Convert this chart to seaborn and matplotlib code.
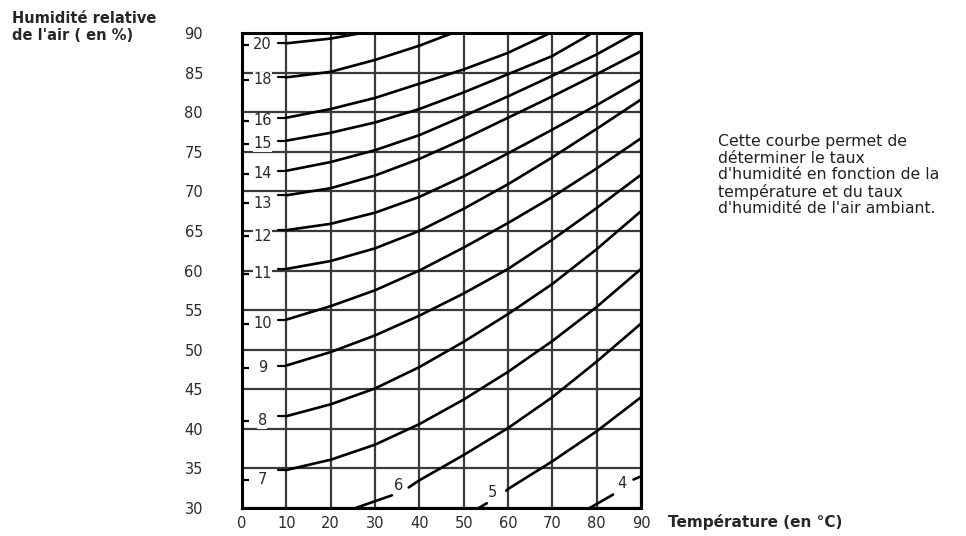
import numpy as np
import pandas as pd
import seaborn as sns
import matplotlib.pyplot as plt

# humidity curves, one per moisture rate (temperature in °C, relative humidity in %)
temp_20 = [10, 20, 27]
hum_20 = [88.7, 89.3, 90.0]
temp_18 = [10, 20, 30, 40, 47.5]
hum_18 = [84.4, 85.1, 86.6, 88.4, 90.0]
temp_16 = [10, 20, 30, 40, 50, 60, 69.5]
hum_16 = [79.3, 80.4, 81.8, 83.6, 85.4, 87.5, 90.0]
temp_15 = [10, 20, 30, 40, 50, 60, 70, 79]
hum_15 = [76.4, 77.4, 78.7, 80.4, 82.5, 84.8, 87.1, 90.0]
temp_14 = [10, 20, 30, 40, 50, 60, 70, 80, 88.7]
hum_14 = [72.6, 73.7, 75.2, 77.1, 79.5, 82.0, 84.6, 87.3, 90.0]
temp_13 = [10, 20, 30, 40, 50, 60, 70, 80, 90]
hum_13 = [69.5, 70.4, 72.0, 74.1, 76.6, 79.3, 82.0, 84.8, 87.7]
temp_12 = [10, 20, 30, 40, 50, 60, 70, 80, 90]
hum_12 = [65.1, 65.9, 67.3, 69.3, 71.9, 74.8, 77.8, 80.9, 84.1]
temp_11 = [10, 20, 30, 40, 50, 60, 70, 80, 90]
hum_11 = [60.2, 61.2, 62.8, 65.0, 67.8, 70.9, 74.3, 77.9, 81.6]
temp_10 = [10, 20, 30, 40, 50, 60, 70, 80, 90]
hum_10 = [53.8, 55.5, 57.5, 60.0, 62.9, 66.0, 69.3, 72.9, 76.7]
temp_9 = [10, 20, 30, 40, 50, 60, 70, 80, 90]
hum_9 = [48.0, 49.7, 51.8, 54.3, 57.1, 60.2, 63.9, 67.9, 72.1]
temp_8 = [10, 20, 30, 40, 50, 60, 70, 80, 90]
hum_8 = [41.6, 43.1, 45.1, 47.8, 51.0, 54.5, 58.3, 62.7, 67.5]
temp_7 = [10, 20, 30, 40, 50, 60, 70, 80, 90]
hum_7 = [34.8, 36.1, 38.0, 40.6, 43.7, 47.2, 51.1, 55.4, 60.2]
# curves 6, 5 and 4 are cut by their label
temp_6a = [25.6, 33.8]
hum_6a = [30.0, 31.6]
temp_6b = [37.6, 40, 50, 60, 70, 80, 90]
hum_6b = [32.6, 33.5, 36.7, 40.1, 44.0, 48.5, 53.3]
temp_5a = [53.4, 55.2]
hum_5a = [30.0, 30.6]
temp_5b = [59.6, 60, 70, 80, 90]
hum_5b = [32.2, 32.4, 35.9, 39.7, 44.0]
temp_4a = [78.4, 83.7]
hum_4a = [30.0, 31.7]
temp_4b = [88.3, 90]
hum_4b = [33.6, 34.0]

left_labels = ['20', '18', '16', '15', '14', '13', '12', '11', '10', '9', '8', '7']
left_label_hum = [88.5, 84.1, 78.9, 76.0, 72.2, 68.5, 64.3, 59.6, 53.3, 47.7, 41.0, 33.6]
inner_labels = ['6', '5', '4']
inner_label_temp = [35.3, 56.5, 85.6]
inner_label_hum = [32.8, 31.9, 33.1]

y_ticks = [30, 35, 40, 45, 50, 55, 60, 65, 70, 75, 80, 85, 90]
x_ticks = [0, 10, 20, 30, 40, 50, 60, 70, 80, 90]

segments = [
    ('20', temp_20, hum_20), ('18', temp_18, hum_18), ('16', temp_16, hum_16),
    ('15', temp_15, hum_15), ('14', temp_14, hum_14), ('13', temp_13, hum_13),
    ('12', temp_12, hum_12), ('11', temp_11, hum_11), ('10', temp_10, hum_10),
    ('9', temp_9, hum_9), ('8', temp_8, hum_8), ('7', temp_7, hum_7),
    ('6a', temp_6a, hum_6a), ('6b', temp_6b, hum_6b),
    ('5a', temp_5a, hum_5a), ('5b', temp_5b, hum_5b),
    ('4a', temp_4a, hum_4a), ('4b', temp_4b, hum_4b),
]
rows = []
for name, ts, hs in segments:
    for t, h in zip(ts, hs):
        rows.append((name, t, h))
df = pd.DataFrame(rows, columns=['segment', 'temperature', 'humidite'])

sns.set_style('white')
plt.rcParams['font.family'] = ['DejaVu Sans']

fig = plt.figure(figsize=(9.66, 5.36), dpi=100)
ax = fig.add_axes([0.2505, 0.0522, 0.4131, 0.8862])

ax.set_xlim(0, 90)
ax.set_ylim(30, 90)
ax.set_xticks(x_ticks)
ax.set_yticks(y_ticks)
ax.grid(True, color='#3a3a3a', lw=1.6)
ax.set_axisbelow(True)

sns.lineplot(data=df, x='temperature', y='humidite', units='segment',
             estimator=None, sort=False, color='black', lw=1.9, ax=ax)

# labels on the left with their small connecting dash
curves_left = [hum_20, hum_18, hum_16, hum_15, hum_14, hum_13,
               hum_12, hum_11, hum_10, hum_9, hum_8, hum_7]
for lab, y, hs in zip(left_labels, left_label_hum, curves_left):
    ax.text(4.6, y, lab, ha='center', va='center', fontsize=10.5,
            color='#2a2a2a', bbox=dict(fc='white', ec='none', pad=0.3))
    ax.plot([8.1, 9.6], [hs[0], hs[0]], color='black', lw=1.6)
for lab, t, h in zip(inner_labels, inner_label_temp, inner_label_hum):
    ax.text(t, h, lab, ha='center', va='center', fontsize=10.5, color='#2a2a2a')

ax.set_yticks(left_label_hum, minor=True)
ax.tick_params(axis='y', which='minor', direction='in', length=5, width=1.6,
               color='black', left=True)
ax.tick_params(axis='y', which='major', length=0, pad=28, labelsize=10.5,
               labelcolor='#2a2a2a')
ax.tick_params(axis='x', which='major', length=0, pad=6, labelsize=10.5,
               labelcolor='#2a2a2a')
for s in ax.spines.values():
    s.set_visible(True)
    s.set_color('black')
    s.set_linewidth(2.2)
ax.set_xlabel('')
ax.set_ylabel('')

fig.text(12 / 966, 1 - 11 / 536, "Humidité relative\nde l'air ( en %)",
         ha='left', va='top', fontsize=10.5, fontweight='bold',
         linespacing=1.15)
fig.text(668 / 966, 1 - 522 / 536, 'Température (en °C)',
         ha='left', va='center', fontsize=11, fontweight='bold')
fig.text(718 / 966, 1 - 134 / 536,
         "Cette courbe permet de\ndéterminer le taux\nd'humidité en fonction de la\n"
         "température et du taux\nd'humidité de l'air ambiant.",
         ha='left', va='top', fontsize=11.3, color='#222222', linespacing=1.13)

fig.savefig('out.png', dpi=100)
